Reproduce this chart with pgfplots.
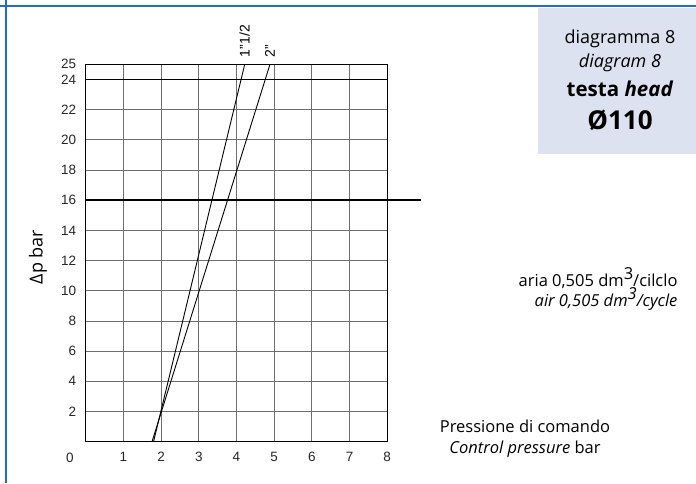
\documentclass[border=0pt]{standalone}
\usepackage{pgfplots}
\pgfplotsset{compat=1.18}
\usepackage{fontspec}
\setmainfont{Liberation Sans}
\newfontfamily\myr{Open Sans}
\definecolor{frameblue}{HTML}{1F6EC4}
\definecolor{boxfill}{HTML}{DCE2EF}
\definecolor{gridgray}{HTML}{6E6E6E}

\begin{document}
\begin{tikzpicture}[x=1pt,y=1pt]
\useasboundingbox (0,0) rectangle (696,-483);
% frame and title box
\fill[boxfill] (538,-8) rectangle (696,-154);
\draw[frameblue, line width=1.6] (0,-6) -- (696,-6);
\draw[frameblue, line width=1.6] (6,0) -- (6,-483);

\begin{axis}[
  at={(85.7pt,-441.7pt)}, anchor=south west,
  scale only axis, width=301.5pt, height=377.4pt,
  xmin=0, xmax=8, ymin=0, ymax=25,
  xtick={1,...,8}, ytick={2,4,...,24,25},
  grid=major,
  major grid style={gridgray, line width=0.8pt},
  axis line style={black, line width=0.9pt},
  tick style={draw=none},
  clip=false,
  tick label style={font=\fontsize{13.5}{13.5}\selectfont, text=black!85},
  /pgf/number format/assume math mode=true,
  xticklabel style={yshift=-7pt},
  yticklabel style={xshift=-6pt},
]
% heavy reference lines
\addplot[black, line width=1.6pt] coordinates {(0,16) (8.89,16)};
\addplot[black, line width=1.3pt] coordinates {(0,24) (8,24)};
% valve curves
\addplot[black, line width=0.9pt] coordinates {(1.80,0) (4.22,25)};
\addplot[black, line width=0.9pt] coordinates {(1.76,0) (4.89,25)};
\node[rotate=90, anchor=west, inner sep=1pt, font=\fontsize{14}{14}\selectfont] at (axis cs:4.22,25.4) {1"1/2};
\node[rotate=90, anchor=west, inner sep=1pt, font=\fontsize{14}{14}\selectfont] at (axis cs:4.89,25.4) {2"};
\node[font=\fontsize{13.5}{13.5}\selectfont, text=black!85] at (axis cs:-0.42,-1.05) {0};
\end{axis}

% y label
\node[rotate=90, font=\myr\fontsize{18}{18}\selectfont] at (38,-257) {Δp bar};
% title box text
\node[anchor=base, font=\myr\fontsize{18}{18}\selectfont] at (620,-43) {diagramma 8};
\node[anchor=base, font=\myr\itshape\fontsize{18}{18}\selectfont] at (620,-67) {diagram 8};
\node[anchor=base, font=\myr\bfseries\fontsize{20.5}{20.5}\selectfont] at (620,-96) {testa \textit{head}};
\node[anchor=base, font=\myr\bfseries\fontsize{26}{26}\selectfont] at (620,-129) {Ø110};
% air consumption
\node[anchor=base east, font=\myr\fontsize{16.5}{16.5}\selectfont] at (681,-286) {aria 0,505 dm\raisebox{0.42em}{3}/cilclo};
\node[anchor=base east, font=\myr\itshape\fontsize{16.5}{16.5}\selectfont] at (681,-306) {air 0,505 dm\raisebox{0.42em}{3}/cycle};
% x label
\node[anchor=base, font=\myr\fontsize{16.5}{16.5}\selectfont] at (525,-432) {Pressione di comando};
\node[anchor=base, font=\myr\fontsize{16.5}{16.5}\selectfont] at (525,-453) {\textit{Control pressure} bar};
\end{tikzpicture}
\end{document}
